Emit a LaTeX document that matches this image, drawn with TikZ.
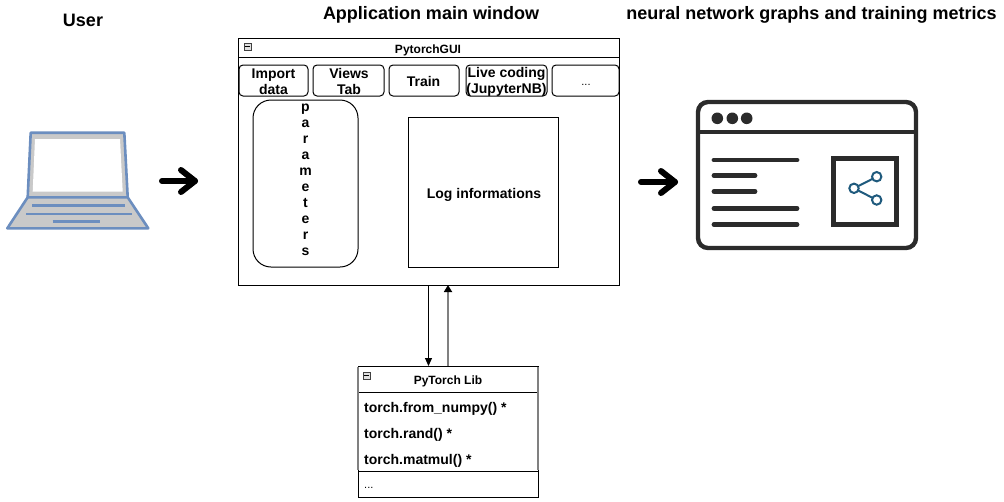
\documentclass[tikz,border=0pt]{standalone}
\usepackage{fontspec}
\setmainfont{Liberation Sans}
\usetikzlibrary{arrows.meta,calc}
\definecolor{lapblue}{HTML}{6C8EBF}
\definecolor{lapgray}{HTML}{C9C9C9}
\definecolor{icondark}{HTML}{2B2B2B}
\definecolor{shareblue}{HTML}{1F5A7D}
\newcommand{\fs}[1]{\fontsize{#1}{#1}\selectfont\bfseries}
\tikzset{
  x=1pt,y=-1pt,
  box/.style={draw=black,line width=1pt,anchor=north west,inner sep=0pt,outer sep=0pt},
  tab/.style={box,rounded corners=4pt},
  tabtext/.style={inner sep=0pt,align=center,font=\fontsize{14}{16}\selectfont\bfseries},
  title/.style={font=\fs{18},inner sep=0pt},
  small/.style={font=\fs{12},inner sep=0pt},
  entry/.style={font=\fs{14},inner sep=0pt,anchor=west},
  minusbox/.style={draw=black!75,fill=black!12,line width=0.6pt,minimum width=7pt,minimum height=7pt,inner sep=0pt},
  minusbar/.style={black,line width=1pt},
  big/.style={line width=6pt,line cap=round,line join=round,black},
  flow/.style={line width=1pt,-{Triangle[length=8pt,width=7pt]}},
  flowup/.style={draw=gray,line width=1.7pt,-{Triangle[length=7pt,width=8pt,color=black,fill=black]}},
  lapline/.style={lapblue,line width=2.6pt},
  iconline/.style={icondark,line width=4.8pt,line cap=round},
}
\begin{document}
\begin{tikzpicture}
\useasboundingbox (0,0) rectangle (1004,501);
% titles
\node[title] (tuser) at (83,20) {User};
\node[title] (tapp) at (431,15) {Application main window};
\node[title] (tnn) at (811.5,15) {neural network graphs and training metrics};
% laptop
\draw[lapline,fill=lapgray,line join=round] (30.7,132.7) -- (124.3,132.7) -- (127.7,197.3) -- (27.7,197.3) -- cycle;
\fill[white] (35,139) -- (120,139) -- (122.7,191.7) -- (32.7,191.7) -- cycle;
\draw[lapline,fill=lapgray,line join=round] (27.7,197.3) -- (127.7,197.3) -- (148.3,228.3) -- (7.3,228.3) -- cycle;
\draw[lapline] (32,205.7) -- (125,205.7);
\draw[lapline] (26,214) -- (131.5,214);
\draw[lapline] (52.7,221.7) -- (100,221.7);
% big arrows
\coordinate (a1s) at (162,181);
\coordinate (a1e) at (195,181);
\draw[big] (a1s) -- (a1e);
\draw[big] ($(a1e)+(-14,-11)$) -- (a1e) -- ($(a1e)+(-14,11)$);
\coordinate (a2s) at (641,182);
\coordinate (a2e) at (675,182);
\draw[big] (a2s) -- (a2e);
\draw[big] ($(a2e)+(-14,-11)$) -- (a2e) -- ($(a2e)+(-14,11)$);
% GUI
\node[box,minimum width=381pt,minimum height=247pt] (gui) at (238,38) {};
\draw[line width=1pt] (238,57) -- (619,57);
\node[minusbox] (guiminus) at (247.5,46.5) {};
\draw[minusbar] ([xshift=1.5pt]guiminus.west) -- ([xshift=-1.5pt]guiminus.east);
\node[small] (guititle) at (428,50) {PytorchGUI};
\node[tab,minimum width=69pt,minimum height=31pt] (t1) at (239,65) {};
\node[tab,minimum width=71pt,minimum height=31pt] (t2) at (313,65) {};
\node[tab,minimum width=70pt,minimum height=31pt] (t3) at (389,65) {};
\node[tab,minimum width=81pt,minimum height=31pt] (t4) at (466,65) {};
\node[tab,minimum width=67pt,minimum height=31pt] (t5) at (552,65) {};
\node[tabtext] (t1x) at (273.5,81.5) {Import\\data};
\node[tabtext] (t2x) at (349,81.5) {Views\\Tab};
\node[tabtext] (t3x) at (423.5,81) {Train};
\node[tabtext] (t4x) at (506.5,81.5) {Live coding\\(JupyterNB)};
\node[inner sep=0pt,font=\fontsize{11}{11}\selectfont] (t5x) at (586,85) {...};
\node[box,rounded corners=18pt,minimum width=105pt,minimum height=167pt] (params) at (253,100) {};
\node[inner sep=0pt,align=center,font=\fontsize{14}{16}\selectfont\bfseries] (ptext) at (305.5,179.5) {p\\a\\r\\a\\m\\e\\t\\e\\r\\s};
\node[box,minimum width=150pt,minimum height=150pt] (log) at (408,117) {};
\node[inner sep=0pt,font=\fs{14}] (logx) at (484,195) {Log informations};
% Lib
\node[box,minimum width=180pt,minimum height=105pt] (lib) at (358,366) {};
\draw[line width=1pt] (358,392) -- (538,392);
\draw[gray,line width=1.7pt] (358,367) -- (358,470) (538,367) -- (538,470);
\node[box,minimum width=180pt,minimum height=26pt] (more) at (358,471) {};
\node[minusbox] (libminus) at (366.5,375.5) {};
\draw[minusbar] ([xshift=1.5pt]libminus.west) -- ([xshift=-1.5pt]libminus.east);
\node[small] (libtitle) at (448,381) {PyTorch Lib};
\node[entry] (e1) at (364,408.5) {torch.from\_numpy() *};
\node[entry] (e2) at (364,434.5) {torch.rand() *};
\node[entry] (e3) at (364,460.5) {torch.matmul() *};
\node[inner sep=0pt,anchor=west,font=\fontsize{11}{11}\selectfont] (e4) at (364,488) {...};
% connectors
\draw[flow] (gui.south) -- (gui.south |- lib.north);
\draw[flowup] (lib.north) -- (lib.north |- gui.south);
% window icon
\draw[icondark,line width=4.4pt,rounded corners=10pt] (698,102) rectangle (916,248);
\draw[icondark,line width=4.4pt] (698,132) -- (916,132);
\foreach \px in {717.3,732.3,746.7} \fill[icondark] (\px,118.3) circle[radius=5.8pt];
\draw[iconline] (714,160) -- (797,160);
\draw[iconline] (714,175.7) -- (755,175.7);
\draw[iconline] (714,191.3) -- (755,191.3);
\draw[iconline] (714,208.3) -- (797,208.3);
\draw[iconline] (714,224.7) -- (797,224.7);
\draw[icondark,line width=5pt] (833,158.3) rectangle (896.7,224.3);
\draw[shareblue,line width=2pt] (876.7,176.7) -- (854,188.3) -- (876.7,200);
\foreach \cx/\cy in {854/188.3,876.7/176.7,876.7/200}
  \draw[shareblue,line width=2pt,fill=white] (\cx,\cy) circle[radius=4.7pt];
\end{tikzpicture}
\end{document}
